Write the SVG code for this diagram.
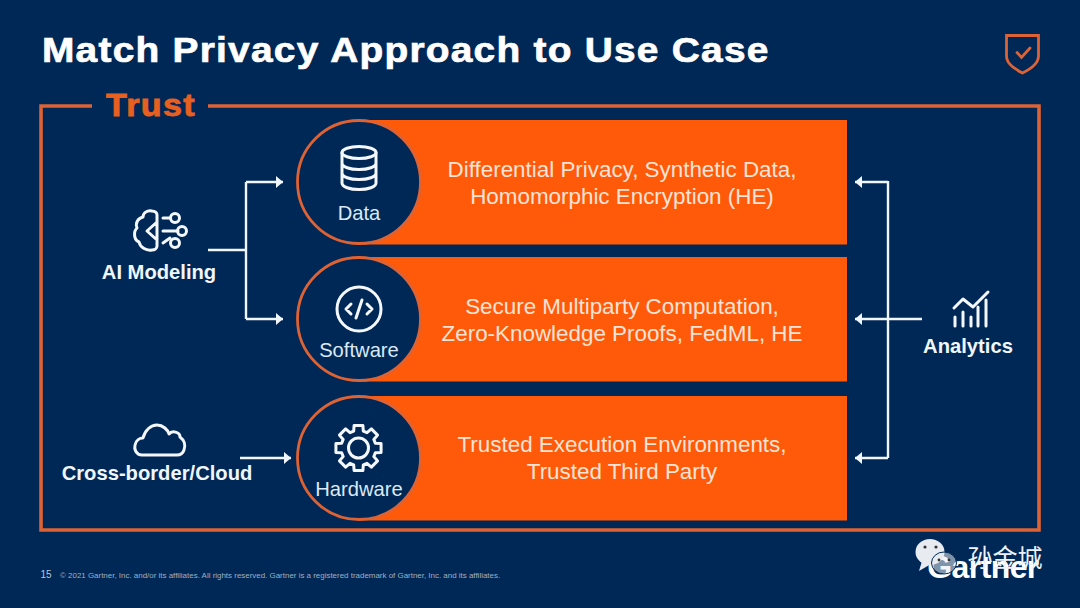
<svg xmlns="http://www.w3.org/2000/svg" width="1080" height="608" viewBox="0 0 1080 608">
<defs>
<style>
text{font-family:"Liberation Sans",Arial,"Noto Sans CJK SC",sans-serif;fill:#fff;text-anchor:middle}
.b{font-weight:700}
.lbl{font-size:20.2px;font-weight:700;fill:#f1f6fb}
.cap{font-size:20.2px;fill:#dbe9f5}
.main{font-size:22.4px;fill:#fbe3d6}
.ico{fill:none;stroke:#f4f8fc;stroke-width:3;stroke-linecap:round;stroke-linejoin:round}
.ln{fill:none;stroke:#f1f6fb;stroke-width:2.4}
.band{fill:#ff5a0a}
.disc{fill:#002856;stroke:#dd6234;stroke-width:2.8}
</style>
<marker id="ah" markerUnits="userSpaceOnUse" markerWidth="8" markerHeight="12" refX="7" refY="6" orient="auto"><path d="M0 0L7 6L0 12Z" fill="#f1f6fb"/></marker>
</defs>
<rect width="1080" height="608" fill="#002856"/>
<text transform="translate(42 62) scale(1.08 1)" class="b" style="text-anchor:start;font-size:36px;letter-spacing:1.15px;stroke:#fff;stroke-width:.7px">Match Privacy Approach to Use Case</text>
<g id="shield-logo" fill="none" stroke="#dd6234" stroke-linecap="round"><path d="M1006.500 35.500H1038.500V56C1038.500 64 1030 69 1022.500 73C1015 69 1006.500 64 1006.500 56Z" stroke-width="2.800"/><path d="M1017 52.500L1021.500 57.500L1030 48" stroke-width="2.800"/></g>
<g id="trust-frame"><path d="M92 106H41V530H1039V106H208" fill="none" stroke="#dd6234" stroke-width="3.600"/><text transform="translate(151 116) scale(1.1 1)" class="b" style="font-size:31px;fill:#e8601f;letter-spacing:1.2px;stroke:#e8601f;stroke-width:.8px">Trust</text></g>
<g id="connectors">
<path class="ln" d="M208 250H246M246 182V319M246 182H283" marker-end="url(#ah)"/>
<path class="ln" d="M246 319H283" marker-end="url(#ah)"/>
<path class="ln" d="M240 458H291" marker-end="url(#ah)"/>
<path class="ln" d="M888 181V458" />
<path class="ln" d="M888 182H855" marker-end="url(#ah)"/>
<path class="ln" d="M922 319H855" marker-end="url(#ah)"/>
<path class="ln" d="M888 458H855" marker-end="url(#ah)"/>
</g>
<g id="node-data"><rect class="band" x="359" y="120" width="488" height="124.500"/><circle class="disc" cx="359" cy="182" r="61.500"/>
<g class="ico"><ellipse cx="359" cy="152.500" rx="17" ry="6"/><path d="M342 152.500V183C342 187 350 189.500 359 189.500S376 187 376 183V152.500M342 163C342 167 350 169.500 359 169.500S376 167 376 163M342 173C342 177 350 179.500 359 179.500S376 177 376 173"/></g>
<text class="cap" x="359" y="220">Data</text>
<text class="main" x="622" y="177">Differential Privacy, Synthetic Data,</text><text class="main" x="622" y="204">Homomorphic Encryption (HE)</text></g>
<g id="node-software"><rect class="band" x="359" y="257" width="488" height="124.500"/><circle class="disc" cx="359" cy="319" r="61.500"/>
<g class="ico"><circle cx="359" cy="309" r="22"/><path d="M351 304L346 309L351 314M367 304L372 309L367 314M362 300L356 318"/></g>
<text class="cap" x="359" y="357">Software</text>
<text class="main" x="622" y="314">Secure Multiparty Computation,</text><text class="main" x="622" y="341">Zero-Knowledge Proofs, FedML, HE</text></g>
<g id="node-hardware"><rect class="band" x="359" y="396" width="488" height="124.500"/><circle class="disc" cx="359" cy="458" r="61.500"/>
<g class="ico" transform="translate(358.500 448)"><circle r="10"/><path d="M16.820 -4.820L22.580 -4.390V4.390L16.820 4.820L15.310 8.480L19.070 12.860L12.860 19.070L8.480 15.310L4.820 16.820L4.390 22.580H-4.390L-4.820 16.820L-8.480 15.310L-12.860 19.070L-19.070 12.860L-15.310 8.480L-16.820 4.820L-22.580 4.390V-4.390L-16.820 -4.820L-15.310 -8.480L-19.070 -12.860L-12.860 -19.070L-8.480 -15.310L-4.820 -16.820L-4.390 -22.580H4.390L4.820 -16.820L8.480 -15.310L12.860 -19.070L19.070 -12.860L15.310 -8.480Z"/></g>
<text class="cap" x="359" y="496">Hardware</text>
<text class="main" x="622" y="452">Trusted Execution Environments,</text><text class="main" x="622" y="479">Trusted Third Party</text></g>
<g id="node-ai"><g class="ico" stroke-width="2.600"><path d="M152 211C147 210 143 213 143 217C138 218 135 223 137 228C133 232 134 240 139 242C140 247 146 251 152 250C155 250 157 248 157 246V215C157 213 155 211 152 211ZM157 222L147 231L157 240M163 218H170M163 231H178M163 243L170 238"/><circle cx="175" cy="218" r="4.500"/><circle cx="182" cy="231" r="4.500"/><circle cx="175" cy="243" r="4.500"/></g><text class="lbl" x="159" y="279">AI Modeling</text></g>
<g id="node-cloud"><path class="ico" d="M142 455C136 455 134 449 135 445C136 440 140 438 143 438C145 430 151 425 157 425C163 425 168 430 169 434C172 430 180 432 180 437C184 440 186 445 184 450C183 453 180 455 177 455Z"/><text class="lbl" x="157" y="480">Cross-border/Cloud</text></g>
<g id="node-analytics"><g class="ico"><path d="M954 308L963 299L973 307L988 292"/><path d="M955 326V317M963 326V312M971 326V317M978 326V307M986 326V300"/></g><text class="lbl" x="968" y="353">Analytics</text></g>
<g id="footer"><text x="46" y="578" style="font-size:10px;fill:#b8c6d6">15</text><text x="60" y="578" style="text-anchor:start;font-size:7.94px;fill:#9fb0c4">© 2021 Gartner, Inc. and/or its affiliates. All rights reserved. Gartner is a registered trademark of Gartner, Inc. and its affiliates.</text>
<text x="983" y="578" class="b" style="font-size:32px;letter-spacing:-.6px">Gartner</text>
<g id="watermark"><ellipse cx="930" cy="552" rx="14.500" ry="13" fill="#e8ecf0"/><path d="M922 561L919 571L931 564Z" fill="#e8ecf0"/><ellipse cx="944" cy="563" rx="12.500" ry="11" fill="#e8ecf0" fill-opacity=".55" stroke="#002856" stroke-width="1"/><circle cx="925" cy="547" r="1.600" fill="#333"/><circle cx="936" cy="547" r="1.600" fill="#333"/><circle cx="939" cy="560" r="1.400" fill="#333"/><circle cx="949" cy="560" r="1.400" fill="#333"/><text x="1005" y="567" style="font-size:25px;font-family:'Noto Sans CJK SC',sans-serif;fill:#eef2f6">孙金城</text></g></g>
</svg>
